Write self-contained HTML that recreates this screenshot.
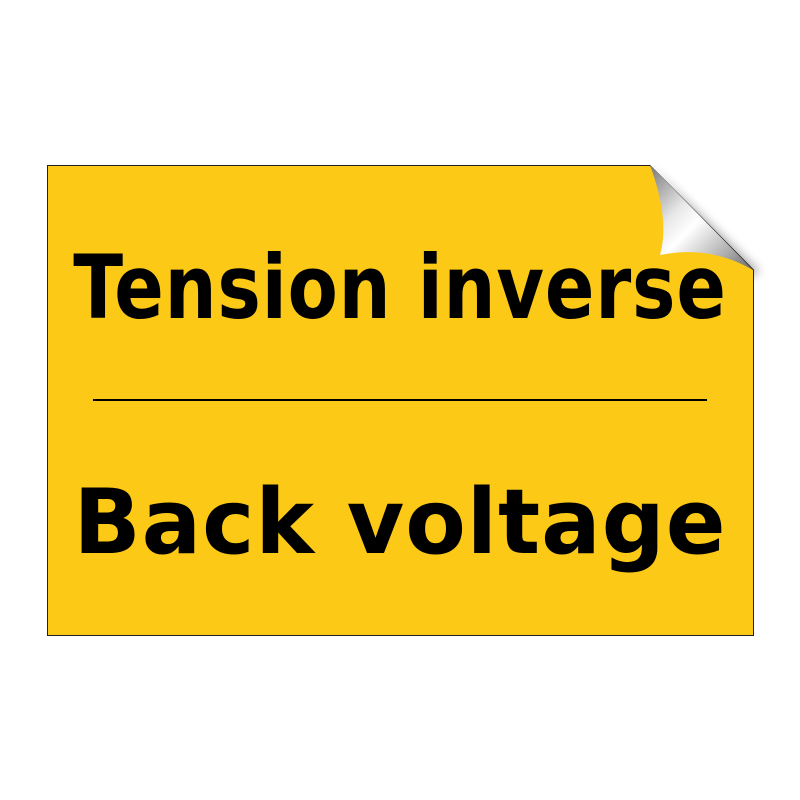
<!DOCTYPE html>
<html><head><style>
body{margin:0;width:800px;height:800px;background:#fff;position:relative;overflow:hidden}
.t{position:absolute;left:0;width:800px;text-align:center;font-family:"DejaVu Sans","Liberation Sans",sans-serif;font-weight:bold;color:#000;white-space:nowrap}
</style></head><body>
<svg width="800" height="800" style="position:absolute;left:0;top:0">
<defs>
<linearGradient id="g" x1="0" y1="0" x2="1" y2="1">
<stop offset="0" stop-color="#777"/><stop offset="0.35" stop-color="#e8e8e8"/><stop offset="0.5" stop-color="#fff"/><stop offset="0.8" stop-color="#aaa"/><stop offset="1" stop-color="#666"/>
</linearGradient>
<filter id="b"><feGaussianBlur stdDeviation="5"/></filter>
</defs>
<path d="M650,166 L760,272 L740,280 Z" fill="#000" opacity="0.35" filter="url(#b)"/>
<path d="M47.5,165.5 L650,165.5 L753.5,270 L753.5,635.5 L47.5,635.5 Z" fill="#fcc917" stroke="#222" stroke-width="1"/>
<path d="M650,165 Q670,220 660,255 Q710,245 753,270 Z" fill="url(#g)"/>
<line x1="93" y1="400" x2="707" y2="400" stroke="#000" stroke-width="2"/>
</svg>
<div class="t" style="top:236px;font-size:88px;letter-spacing:1px;transform:scaleX(0.83)">Tension inverse</div>
<div class="t" style="top:470px;font-size:90px;letter-spacing:1px;transform:scaleX(0.98)">Back voltage</div>
</body></html>
